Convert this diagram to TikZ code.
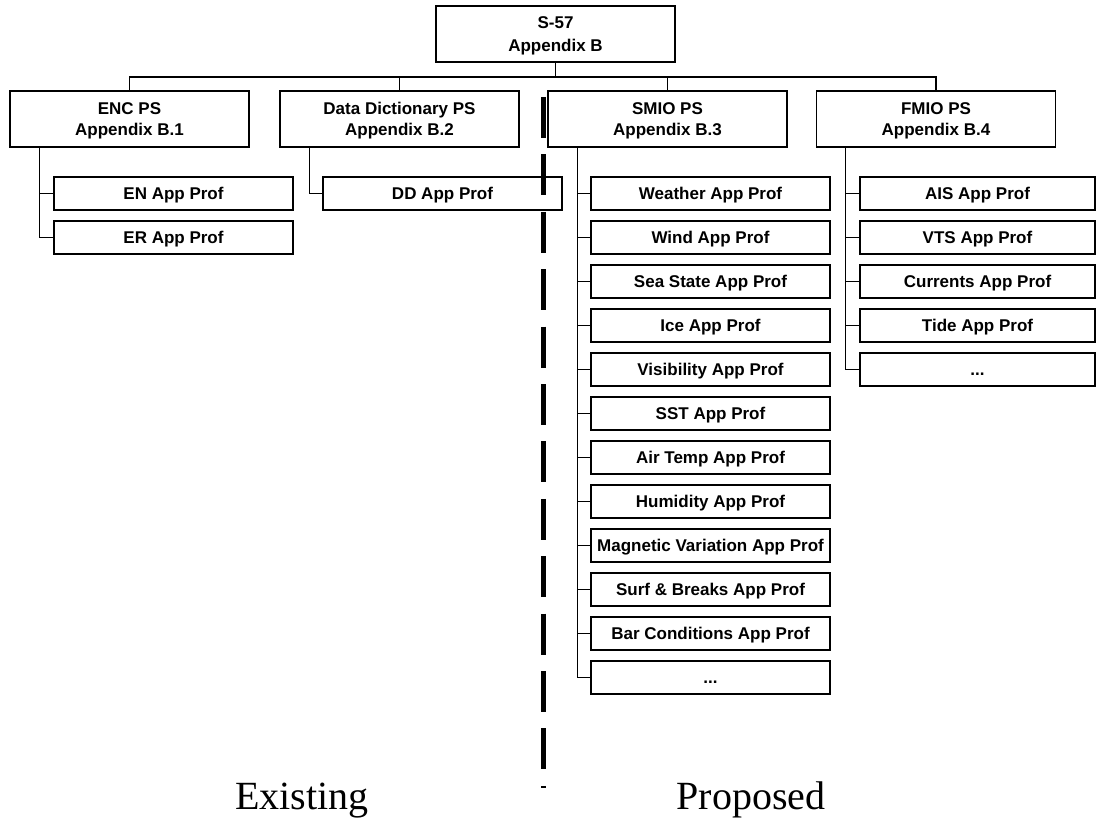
\documentclass[tikz,border=0pt]{standalone}
\usepackage{fontspec}
\newfontfamily\boxfont{Liberation Sans}
\newfontfamily\capfont{Liberation Serif}
\newcommand\moredots{...}
\begin{document}
\begin{tikzpicture}[x=1pt,y=-1pt,
  boxline/.style={draw=black, line width=1.6pt},
  topbox/.style={boxline, minimum width=239pt, minimum height=56pt, inner sep=0pt,
    align=center, text height=35.2pt, text depth=0pt,
    font=\boxfont\bfseries\fontsize{17}{23}\selectfont},
  psbox/.style={boxline, minimum width=239pt, minimum height=56pt, inner sep=0pt,
    align=center, text height=33.2pt, text depth=0pt,
    font=\boxfont\bfseries\fontsize{17}{21}\selectfont},
  profbox/.style={boxline, minimum width=239pt, minimum height=33pt, inner sep=0pt,
    text height=12.2pt, text depth=0pt,
    font=\boxfont\bfseries\fontsize{17}{20}\selectfont},
  link/.style={draw=black, line width=1.3pt},
  divider/.style={draw=black, line width=5pt, dash pattern=on 41pt off 16.4pt},
  sidecap/.style={anchor=base, inner sep=0pt, font=\capfont\fontsize{40}{44}\selectfont}
]
\useasboundingbox (0,0) rectangle (1097,818);

% root
\node[topbox] (root) at (555.5,34) {S-57\\Appendix B};

% product specifications
\node[psbox] (enc)  at (129.5,119) {ENC PS\\Appendix B.1};
\node[psbox] (dd)   at (399.5,119) {Data Dictionary PS\\Appendix B.2};
\node[psbox] (smio) at (667.5,119) {SMIO PS\\Appendix B.3};
\node[psbox] (fmio) at (936,119)   {FMIO PS\\Appendix B.4};

% bus from the root to the four specifications
\coordinate (bus) at (555.5,77);
\draw[link] (root.south) -- (bus);
\draw[link] (enc.north) |- (bus) -| (fmio.north);
\draw[link] (dd.north) -- (dd.north |- bus);
\draw[link] (smio.north) -- (smio.north |- bus);

% ENC application profiles
\node[profbox] (en) at (173.5,193.5) {EN App Prof};
\node[profbox] (er) at (173.5,237.5) {ER App Prof};
\foreach \c in {en,er}
  \draw[link] ([xshift=30pt]enc.south west) |- (\c.west);

% Data dictionary application profile
\node[profbox] (ddp) at (442.5,193.5) {DD App Prof};
\draw[link] ([xshift=30pt]dd.south west) |- (ddp.west);

% SMIO application profiles
\foreach \n/\t [count=\k from 0] in {
  wea/Weather App Prof, win/Wind App Prof, sea/Sea State App Prof,
  ice/Ice App Prof, vis/Visibility App Prof, sst/SST App Prof,
  air/Air Temp App Prof, hum/Humidity App Prof,
  mag/Magnetic Variation App Prof, surf/Surf \& Breaks App Prof,
  bar/Bar Conditions App Prof, smore/\moredots}{
  \node[profbox] (\n) at (710.5,193.5+44*\k) {\t};
  \draw[link] ([xshift=30pt]smio.south west) |- (\n.west);
}

% FMIO application profiles
\foreach \n/\t [count=\k from 0] in {
  ais/AIS App Prof, vts/VTS App Prof, cur/Currents App Prof,
  tide/Tide App Prof, fmore/\moredots}{
  \node[profbox, minimum width=235pt] (\n) at (977.5,193.5+44*\k) {\t};
  \draw[link] ([xshift=30pt]fmio.south west) |- (\n.west);
}

% divider between existing and proposed parts
\coordinate (divtop) at (543,97);
\coordinate (divbot) at (543,788);
\draw[divider] (divtop) -- (divbot);

\node[sidecap] (existing) at (302,809) {Existing};
\node[sidecap] (proposed) at (751,809) {Proposed};
\end{tikzpicture}
\end{document}
